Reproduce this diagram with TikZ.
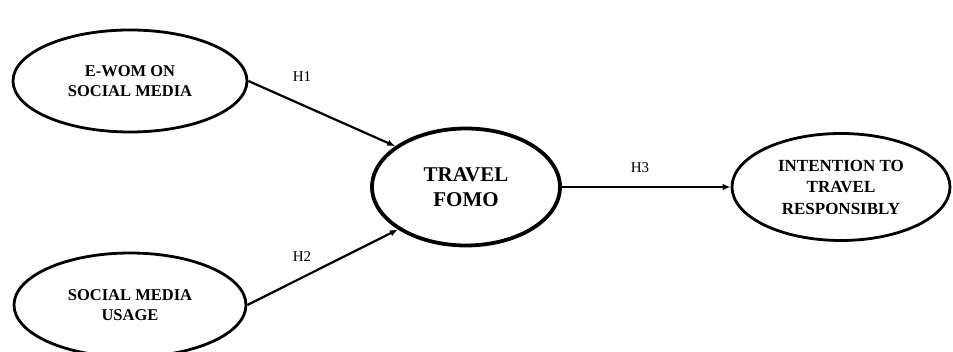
\documentclass[tikz,border=0pt]{standalone}
\usepackage{fontspec}
\setmainfont{Liberation Serif}
\usetikzlibrary{shapes.geometric,arrows.meta}
\tikzset{
  construct/.style={draw,ellipse,line width=2.8pt,inner sep=0pt,align=center,font=\bfseries\fontsize{16.5}{20}\selectfont},
  hyp/.style={-{Latex[length=8pt,width=6.5pt]},line width=2.2pt},
  hlabel/.style={font=\fontsize{15}{18}\selectfont}
}
\begin{document}
\begin{tikzpicture}[x=1pt,y=1pt]
          \useasboundingbox (0,0) rectangle (953,352);
          \node[construct,minimum width=234pt,minimum height=102pt] (ewom) at (130,271) {E-WOM ON\\SOCIAL MEDIA};
          \node[construct,minimum width=232pt,minimum height=104pt] (usage) at (130,47) {SOCIAL MEDIA\\USAGE};
          \node[construct,line width=3.8pt,minimum width=188pt,minimum height=117pt,font=\bfseries\fontsize{21}{25}\selectfont] (fomo) at (466,165) {TRAVEL\\FOMO};
          \node[construct,minimum width=218pt,minimum height=107pt,font=\bfseries\fontsize{17}{21.5}\selectfont] (intent) at (841,165) {INTENTION TO\\TRAVEL\\RESPONSIBLY};
          \draw[hyp] (ewom.east) -- (fomo.150);
          \draw[hyp] (usage.east) -- (fomo.212);
          \draw[hyp] (fomo.east) -- (intent.west);
          \node[hlabel] (h1) at (302,275) {H1};
          \node[hlabel] (h2) at (302,95) {H2};
          \node[hlabel] (h3) at (640,184) {H3};
        \end{tikzpicture}
\end{document}
